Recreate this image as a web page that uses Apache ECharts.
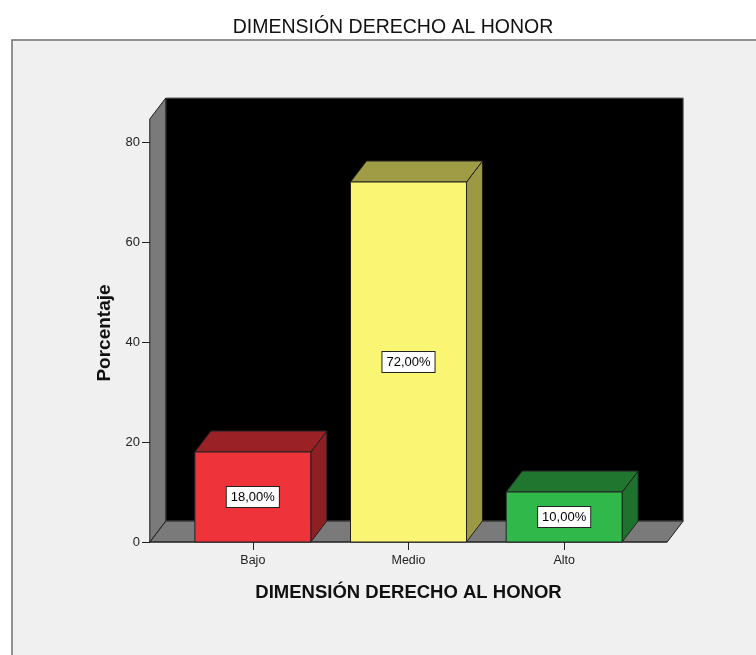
<!DOCTYPE html>
<html>
<head>
<meta charset="utf-8">
<script src="https://cdn.jsdelivr.net/npm/echarts@6/dist/echarts.min.js"></script>
<style>
html,body{margin:0;padding:0;background:#ffffff;}
#chart{width:756px;height:655px;}
</style>
</head>
<body>
<div id="chart"></div>
<script>
// ---- data ----
const categories = ['Bajo', 'Medio', 'Alto'];
const percentages = [18, 72, 10];
const yTicks = [0, 20, 40, 60, 80];
const wallTopValue = 84.6; // height reached by the 3D walls, in axis units

// ---- styles ----
const frontColors = ['#ef333b', '#fbf574', '#30b94a'];
const topColors = ['#9a2125', '#a09c46', '#20752f'];
const sideColors = ['#8e1f22', '#9c9843', '#1f722e'];
const DX = 16, DY = -21;      // depth offset of the 3D box
const PAD = 0.662;            // floor extends this many bands beyond outer category centres
const FONT = '"Liberation Sans", Arial, sans-serif';

function fmt(v) { return v.toFixed(2).replace('.', ',') + '%'; }

const chart = echarts.init(document.getElementById('chart'), null, {renderer: 'canvas'});

function renderBackground(params, api) {
  const band = api.size([1, 0])[0];
  const first = api.coord([0, 0]);
  const last = api.coord([categories.length - 1, 0]);
  const xL = first[0] - PAD * band;
  const xR = last[0] + PAD * band;
  const yB = first[1];
  const yT = api.coord([0, wallTopValue])[1];
  const edge = {stroke: '#1e1e1e', lineWidth: 1};
  return {
    type: 'group',
    children: [
      { type: 'polygon', shape: {points: [[xL + DX, yB + DY], [xR + DX, yB + DY], [xR + DX, yT + DY], [xL + DX, yT + DY]]},
        style: {fill: '#000000', stroke: '#6a6a6a', lineWidth: 1} },
      { type: 'polygon', shape: {points: [[xL, yB], [xR, yB], [xR + DX, yB + DY], [xL + DX, yB + DY]]},
        style: Object.assign({fill: '#7a7a7a'}, edge) },
      { type: 'polygon', shape: {points: [[xL, yB], [xL, yT], [xL + DX, yT + DY], [xL + DX, yB + DY]]},
        style: Object.assign({fill: '#7a7a7a'}, edge) },
      { type: 'line', shape: {x1: xL, y1: yB, x2: xR, y2: yB}, style: {stroke: '#222', lineWidth: 1.2} }
    ]
  };
}

function renderBar(params, api) {
  const idx = api.value(0);
  const val = api.value(1);
  const top = api.coord([idx, val]);
  const base = api.coord([idx, 0]);
  const bw = api.size([1, 0])[0] * 0.745;
  const xl = top[0] - bw / 2, xr = top[0] + bw / 2, yt = top[1], yb = base[1];
  const edge = {stroke: '#222', lineWidth: 1};
  return {
    type: 'group',
    children: [
      { type: 'polygon', shape: {points: [[xr, yb], [xr, yt], [xr + DX, yt + DY], [xr + DX, yb + DY]]},
        style: Object.assign({fill: sideColors[idx]}, edge) },
      { type: 'polygon', shape: {points: [[xl, yt], [xr, yt], [xr + DX, yt + DY], [xl + DX, yt + DY]]},
        style: Object.assign({fill: topColors[idx]}, edge) },
      { type: 'rect', shape: {x: xl, y: yt, width: bw, height: yb - yt},
        style: Object.assign({fill: frontColors[idx]}, edge) },
      { type: 'text', x: top[0], y: (yt + yb) / 2,
        style: { text: fmt(percentages[idx]), fill: '#000', font: '13px ' + FONT,
                 align: 'center', verticalAlign: 'middle',
                 backgroundColor: '#ffffff', borderColor: '#222', borderWidth: 1,
                 padding: [4, 4, 3, 4] } }
    ]
  };
}

const option = {
  backgroundColor: '#ffffff',
  animation: false,
  title: {
    text: 'DIMENSIÓN DERECHO AL HONOR',
    left: 388, top: 13, textAlign: 'center',
    textStyle: {fontFamily: FONT, fontSize: 19.5, fontWeight: 'normal', color: '#111'}
  },
  graphic: [{
    type: 'rect', z: -10, silent: true,
    shape: {x: 12, y: 40, width: 800, height: 700},
    style: {fill: '#f0f0f0', stroke: '#707070', lineWidth: 1.5}
  }],
  grid: {left: 175, right: 114, top: 142, bottom: 113},
  xAxis: {
    type: 'category',
    data: categories,
    name: 'DIMENSIÓN DERECHO AL HONOR',
    nameLocation: 'middle',
    nameGap: 41,
    nameTextStyle: {fontFamily: FONT, fontSize: 18.5, fontWeight: 'bold', color: '#111'},
    axisLine: {show: false},
    axisTick: {show: true, alignWithLabel: true, length: 8, lineStyle: {color: '#222'}},
    axisLabel: {margin: 12, fontFamily: FONT, fontSize: 12.5, color: '#222'},
    splitLine: {show: false}
  },
  yAxis: {
    type: 'value',
    min: yTicks[0], max: yTicks[yTicks.length - 1], interval: 20,
    offset: 25,
    name: 'Porcentaje',
    nameLocation: 'middle',
    nameGap: 36,
    nameTextStyle: {fontFamily: FONT, fontSize: 19, fontWeight: 'bold', color: '#111', padding: [0, 0, 0, 18]},
    axisLine: {show: false},
    axisTick: {show: true, length: 8, lineStyle: {color: '#222'}},
    axisLabel: {margin: 10, fontFamily: FONT, fontSize: 13, color: '#222'},
    splitLine: {show: false}
  },
  series: [
    { type: 'custom', renderItem: renderBackground, data: [[0, 0]], clip: false, silent: true, z: 1 },
    { type: 'custom', renderItem: renderBar, data: percentages.map((v, i) => [i, v]), clip: false, silent: true, z: 2 }
  ]
};
chart.setOption(option);
</script>
</body>
</html>
